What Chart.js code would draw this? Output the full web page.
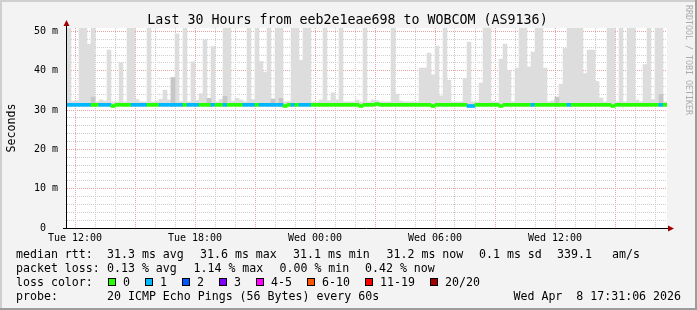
<!DOCTYPE html>
<html>
<head>
<meta charset="utf-8">
<title>Last 30 Hours</title>
<script src="https://cdn.jsdelivr.net/npm/chart.js@4.4.1/dist/chart.umd.min.js"></script>
<style>
  html, body { margin: 0; padding: 0; background: #f3f3f3; }
  canvas { display: block; }
</style>
</head>
<body>
<canvas id="graph" width="697" height="310"></canvas>
<script>
// time in minutes counted from Tue 00:00, one sample every 12 minutes
var startMin = 696;
var endMin = 2496;
var stepMin = 12;

var timeTickAt = [720, 1080, 1440, 1800, 2160];
var timeTickLabels = ['Tue 12:00', 'Tue 18:00', 'Wed 00:00', 'Wed 06:00', 'Wed 12:00'];

var rttMax = 50.9;      // top of the y axis (ms)
var smokeFloor = 31.0;  // fastest pings (ms)

// highest ping in each 12 min slot (ms), 55 = off the top of the graph
var smokeTop = [
  55, 32.3, 32.4, 55, 55, 46.8, 55, 32.1, 32.6, 32.3,
  45.3, 32.1, 32.1, 42.1, 32.1, 55, 55, 32.7, 32.1, 32.1,
  55, 32.1, 32.3, 32.8, 35.1, 32.6, 38.3, 49.4, 32.2, 55,
  32.1, 42.3, 32.5, 34.2, 47.9, 33.0, 46.2, 32.1, 32.7, 55,
  55, 32.3, 33.0, 32.6, 32.1, 55, 32.7, 55, 42.4, 39.6,
  55, 32.8, 55, 55, 32.1, 32.2, 55, 55, 42.7, 55,
  55, 32.1, 32.1, 32.6, 55, 32.4, 34.4, 32.6, 55, 32.1,
  32.1, 32.1, 32.6, 32.1, 55, 32.1, 32.6, 32.4, 32.1, 32.1,
  32.1, 55, 34.1, 32.3, 32.1, 32.1, 32.1, 32.1, 40.7, 40.7,
  44.5, 39.0, 46.3, 33.6, 55, 37.6, 32.1, 32.1, 32.1, 38.1,
  47.3, 32.1, 32.1, 36.9, 55, 55, 32.2, 32.1, 43.0, 46.8,
  40.0, 32.1, 40.7, 55, 55, 41.0, 44.8, 55, 55, 40.7,
  32.1, 32.4, 33.3, 36.6, 45.7, 55, 55, 55, 55, 39.3,
  45.3, 45.3, 37.3, 33.1, 32.1, 55, 55, 32.1, 55, 32.1,
  55, 55, 32.6, 32.1, 41.6, 55, 32.7, 55, 55, 32.1
];

// denser part of the smoke (ms), 0 = none
var darkTop = [
  0, 0, 0, 0, 0, 0, 33.3, 0, 0, 0,
  0, 0, 0, 0, 0, 0, 0, 0, 0, 0,
  0, 0, 0, 0, 0, 0, 38.3, 0, 0, 0,
  0, 0, 0, 0, 0, 33.0, 0, 0, 0, 33.5,
  0, 0, 0, 0, 0, 0, 0, 0, 0, 0,
  0, 32.8, 0, 33.0, 0, 0, 0, 0, 0, 0,
  0, 0, 0, 0, 0, 0, 0, 0, 0, 0,
  0, 0, 0, 0, 0, 0, 0, 0, 0, 0,
  0, 0, 0, 0, 0, 0, 0, 0, 0, 0,
  0, 0, 0, 0, 0, 0, 0, 0, 0, 0,
  0, 0, 0, 0, 0, 0, 0, 0, 0, 0,
  0, 0, 0, 0, 0, 0, 0, 0, 0, 0,
  0, 0, 33.3, 0, 0, 0, 0, 0, 0, 0,
  0, 0, 0, 0, 0, 0, 0, 0, 0, 0,
  0, 0, 0, 0, 0, 0, 0, 0, 34.0, 0
];

var medianRtt = [
  31.35, 31.35, 31.35, 31.35, 31.35, 31.35, 31.35, 31.35, 31.35, 31.35,
  31.35, 31.05, 31.35, 31.35, 31.35, 31.35, 31.35, 31.35, 31.35, 31.35,
  31.35, 31.35, 31.35, 31.35, 31.35, 31.35, 31.35, 31.35, 31.35, 31.35,
  31.35, 31.35, 31.35, 31.35, 31.35, 31.35, 31.35, 31.35, 31.35, 31.35,
  31.35, 31.35, 31.35, 31.35, 31.35, 31.35, 31.35, 31.35, 31.35, 31.35,
  31.35, 31.35, 31.35, 31.35, 31.05, 31.35, 31.35, 31.35, 31.35, 31.35,
  31.35, 31.35, 31.35, 31.35, 31.35, 31.35, 31.35, 31.35, 31.35, 31.35,
  31.35, 31.35, 31.35, 31.05, 31.35, 31.35, 31.35, 31.55, 31.35, 31.35,
  31.35, 31.35, 31.35, 31.35, 31.35, 31.35, 31.35, 31.35, 31.35, 31.35,
  31.35, 31.05, 31.35, 31.35, 31.35, 31.35, 31.35, 31.35, 31.35, 31.35,
  31.05, 31.05, 31.35, 31.35, 31.35, 31.35, 31.35, 31.35, 31.05, 31.35,
  31.35, 31.35, 31.35, 31.35, 31.35, 31.35, 31.35, 31.35, 31.35, 31.35,
  31.35, 31.35, 31.35, 31.35, 31.35, 31.35, 31.35, 31.35, 31.35, 31.35,
  31.35, 31.35, 31.35, 31.35, 31.35, 31.35, 31.05, 31.35, 31.35, 31.35,
  31.35, 31.35, 31.35, 31.35, 31.35, 31.35, 31.35, 31.35, 31.35, 31.35
];

// lost pings out of 20 in each slot
var lossCount = [
  1, 1, 1, 1, 1, 1, 0, 0, 1, 1,
  1, 0, 0, 0, 0, 0, 1, 1, 1, 1,
  0, 0, 0, 1, 1, 1, 1, 1, 1, 0,
  1, 1, 1, 0, 0, 0, 1, 0, 0, 1,
  0, 0, 0, 0, 1, 1, 1, 0, 1, 1,
  1, 1, 1, 1, 0, 0, 1, 0, 1, 1,
  1, 0, 0, 0, 0, 0, 0, 0, 0, 0,
  0, 0, 0, 0, 0, 0, 0, 0, 0, 0,
  0, 0, 0, 0, 0, 0, 0, 0, 0, 0,
  0, 0, 0, 0, 0, 0, 0, 0, 0, 0,
  1, 1, 0, 0, 0, 0, 0, 0, 0, 0,
  0, 0, 0, 0, 0, 0, 1, 0, 0, 0,
  0, 0, 0, 0, 0, 1, 0, 0, 0, 0,
  0, 0, 0, 0, 0, 0, 0, 0, 0, 0,
  0, 0, 0, 0, 0, 0, 0, 0, 1, 0
];

var lossColors = ['#26ff00', '#00b8ff', '#0059ff', '#7e00ff', '#ff00ff', '#ff5500', '#ff0000', '#a00000'];
var lossLabels = ['0', '1', '2', '3', '4-5', '6-10', '11-19', '20/20'];

var rttStats = ['31.3 ms avg', '31.6 ms max', '31.1 ms min', '31.2 ms now', '0.1 ms sd', '339.1', 'am/s'];
var lossStats = ['0.13 % avg', '1.14 % max', '0.00 % min', '0.42 % now'];

var graphTitle = 'Last 30 Hours from eeb2e1eae698 to WOBCOM (AS9136)';
var probeText = '20 ICMP Echo Pings (56 Bytes) every 60s';
var stampText = 'Wed Apr  8 17:31:06 2026';

var MONO = '"DejaVu Sans Mono", monospace';

function slotX(i) {
    return startMin + stepMin / 2 + stepMin * i;
}

var smokeData = smokeTop.map(function (v, i) {
    return {x: slotX(i), y: [smokeFloor, v]};
});
var darkData = [];
darkTop.forEach(function (v, i) {
    if (v) {
        darkData.push({x: slotX(i), y: [smokeFloor, v]});
    }
});
var medianData = medianRtt.map(function (v, i) {
    return {x: slotX(i), y: [v - 0.38, v + 0.38]};
});

var rrdFrame = {
    id: 'rrdFrame',
    beforeDraw: function (chart) {
        var ctx = chart.ctx;
        var a = chart.chartArea;
        ctx.save();
        ctx.fillStyle = '#f3f3f3';
        ctx.fillRect(0, 0, 697, 310);
        ctx.fillStyle = '#cfcfcf';
        ctx.fillRect(0, 0, 697, 2);
        ctx.fillRect(0, 0, 2, 310);
        ctx.fillStyle = '#9c9c9c';
        ctx.fillRect(0, 308, 697, 2);
        ctx.fillRect(695, 0, 2, 310);
        ctx.fillStyle = '#ffffff';
        ctx.fillRect(a.left, a.top, a.right - a.left, a.bottom - a.top);
        ctx.restore();
    },
    afterDraw: function (chart) {
        var ctx = chart.ctx;
        var a = chart.chartArea;
        ctx.save();

        // axes with arrows
        ctx.strokeStyle = '#000';
        ctx.lineWidth = 1;
        ctx.beginPath();
        ctx.moveTo(a.left - 0.5, a.bottom + 1);
        ctx.lineTo(a.left - 0.5, a.top - 4);
        ctx.moveTo(a.left - 4, a.bottom + 0.5);
        ctx.lineTo(a.right + 3, a.bottom + 0.5);
        ctx.stroke();
        ctx.fillStyle = '#a00000';
        ctx.beginPath();
        ctx.moveTo(a.left - 3.5, a.top - 2);
        ctx.lineTo(a.left + 2.5, a.top - 2);
        ctx.lineTo(a.left - 0.5, a.top - 8);
        ctx.closePath();
        ctx.fill();
        ctx.beginPath();
        ctx.moveTo(a.right + 1, a.bottom - 2.5);
        ctx.lineTo(a.right + 1, a.bottom + 3.5);
        ctx.lineTo(a.right + 7, a.bottom + 0.5);
        ctx.closePath();
        ctx.fill();

        ctx.fillStyle = '#000';
        ctx.textBaseline = 'alphabetic';

        // title
        ctx.font = '13.3px ' + MONO;
        ctx.textAlign = 'center';
        ctx.fillText(graphTitle, 347.5, 24);

        // unit label
        ctx.font = '11.6px ' + MONO;
        ctx.save();
        ctx.translate(15, 128);
        ctx.rotate(-Math.PI / 2);
        ctx.fillText('Seconds', 0, 0);
        ctx.restore();

        // watermark
        ctx.save();
        ctx.fillStyle = '#ababab';
        ctx.font = '8.3px ' + MONO;
        ctx.translate(686, 60);
        ctx.rotate(Math.PI / 2);
        ctx.fillText('RRDTOOL / TOBI OETIKER', 0, 0);
        ctx.restore();

        // legend block
        ctx.textAlign = 'left';
        ctx.font = '11.6px ' + MONO;
        var rttX = [107, 200, 293, 386.5, 479, 557, 612];
        ctx.fillText('median rtt:', 16, 258);
        rttStats.forEach(function (s, i) {
            ctx.fillText(s, rttX[i], 258);
        });
        var lossX = [107, 193.5, 279.5, 365];
        ctx.fillText('packet loss:', 16, 272);
        lossStats.forEach(function (s, i) {
            ctx.fillText(s, lossX[i], 272);
        });
        ctx.fillText('loss color:', 16, 286);
        var bx = 108;
        lossLabels.forEach(function (s, i) {
            ctx.fillStyle = lossColors[i];
            ctx.fillRect(bx, 278, 8, 8);
            ctx.strokeStyle = '#000';
            ctx.strokeRect(bx + 0.5, 278.5, 7, 7);
            ctx.fillStyle = '#000';
            ctx.fillText(s, bx + 15, 286);
            bx += 37 + 7 * (s.length - 1);
        });
        ctx.fillText('probe:', 16, 300);
        ctx.fillText(probeText, 107, 300);
        ctx.textAlign = 'right';
        ctx.fillText(stampText, 681, 300);
        ctx.restore();
    }
};

function hourTicks(scale) {
    var t = [];
    for (var m = 720; m < endMin; m += 60) {
        t.push({value: m});
    }
    scale.ticks = t;
}

function rttTicks(scale) {
    var t = [];
    for (var v = 0; v <= 50; v += 2) {
        t.push({value: v});
    }
    scale.ticks = t;
}

var ctx = document.getElementById('graph');
new Chart(ctx, {
    type: 'bar',
    data: {
        datasets: [{
            label: 'median',
            data: medianData,
            backgroundColor: function (c) {
                return lossColors[lossCount[c.dataIndex]];
            },
            order: 0
        }, {
            label: 'dense smoke',
            data: darkData,
            backgroundColor: '#c6c6c6',
            order: 1
        }, {
            label: 'smoke',
            data: smokeData,
            backgroundColor: '#dddddd',
            order: 2
        }]
    },
    options: {
        responsive: false,
        animation: false,
        devicePixelRatio: 1,
        events: [],
        datasets: {
            bar: {
                grouped: false,
                barPercentage: 1,
                categoryPercentage: 1,
                borderWidth: 0
            }
        },
        layout: {
            padding: {left: 0, top: 28, right: 30, bottom: 0}
        },
        plugins: {
            legend: {display: false},
            tooltip: {enabled: false},
            title: {display: false}
        },
        scales: {
            x: {
                type: 'linear',
                min: startMin,
                max: endMin,
                offset: false,
                z: 1,
                afterBuildTicks: hourTicks,
                afterFit: function (s) { s.height = 82; },
                grid: {
                    offset: false,
                    drawTicks: false,
                    color: function (c) {
                        return c.tick && c.tick.value % 180 === 0 ? '#e8a2a2' : '#cdcdcd';
                    }
                },
                border: {display: false, dash: [1, 1]},
                ticks: {
                    autoSkip: false,
                    maxRotation: 0,
                    padding: 4,
                    color: '#000',
                    font: {family: MONO, size: 10},
                    callback: function (v) {
                        var k = timeTickAt.indexOf(v);
                        return k >= 0 ? timeTickLabels[k] : '';
                    }
                }
            },
            y: {
                type: 'linear',
                min: 0,
                max: rttMax,
                z: 1,
                afterBuildTicks: rttTicks,
                afterFit: function (s) { s.width = 67; },
                grid: {
                    drawTicks: false,
                    color: function (c) {
                        return c.tick && c.tick.value % 10 === 0 ? '#e8a2a2' : '#cdcdcd';
                    }
                },
                border: {display: false, dash: [1, 1]},
                ticks: {
                    autoSkip: false,
                    padding: 9,
                    color: '#000',
                    font: {family: MONO, size: 10},
                    callback: function (v) {
                        if (v % 10 !== 0) {
                            return '';
                        }
                        return v === 0 ? '0  ' : v + ' m';
                    }
                }
            }
        }
    },
    plugins: [rrdFrame]
});
</script>
</body>
</html>
